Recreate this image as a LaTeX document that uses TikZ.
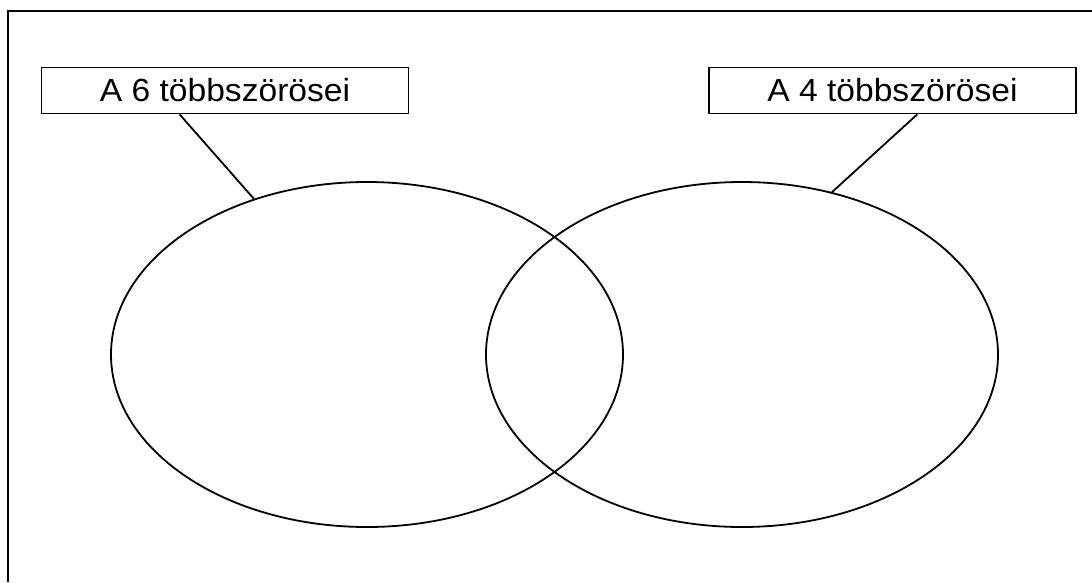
\documentclass[tikz,border=0pt]{standalone}
\usepackage{fontspec}
\setmainfont[FakeStretch=1.05]{Liberation Sans}
\usetikzlibrary{shapes.geometric}
\usetikzlibrary{calc}
\begin{document}
\begin{tikzpicture}[x=1pt,y=-1pt]
% Styles
\tikzstyle{cadre}=[line width=1.4pt]
\tikzstyle{ensemble}=[draw,ellipse,line width=1.8pt,minimum width=512pt,minimum height=345pt,inner sep=0pt]
\tikzstyle{etiquette}=[draw,line width=1.8pt,minimum width=367pt,minimum height=46pt,inner sep=0pt,font=\fontsize{32}{34}\selectfont]
\tikzstyle{trait}=[line width=1.8pt]
% Dimensions
\def\Cy{354.5}
\def\Ey{90.5}
% Cadre
\useasboundingbox (0,0) rectangle (1092,582);
\draw[cadre] (8,582) -- (8,11) -- (1092,11);
% Ensembles
\node[ensemble] (hatos) at (367,\Cy) {};
\node[ensemble] (negyes) at (742,\Cy) {};
% Etiquettes
\node[etiquette] (cim6) at (225,\Ey) {A 6 többszörösei};
\node[etiquette] (cim4) at (892.5,\Ey) {A 4 többszörösei};
% Traits
\draw[trait] ($(cim6.south west)!0.377!(cim6.south east)$) -- (hatos.126.5);
\draw[trait] ($(cim4.south west)!0.567!(cim4.south east)$) -- (negyes.61.4);
\end{tikzpicture}
\end{document}
